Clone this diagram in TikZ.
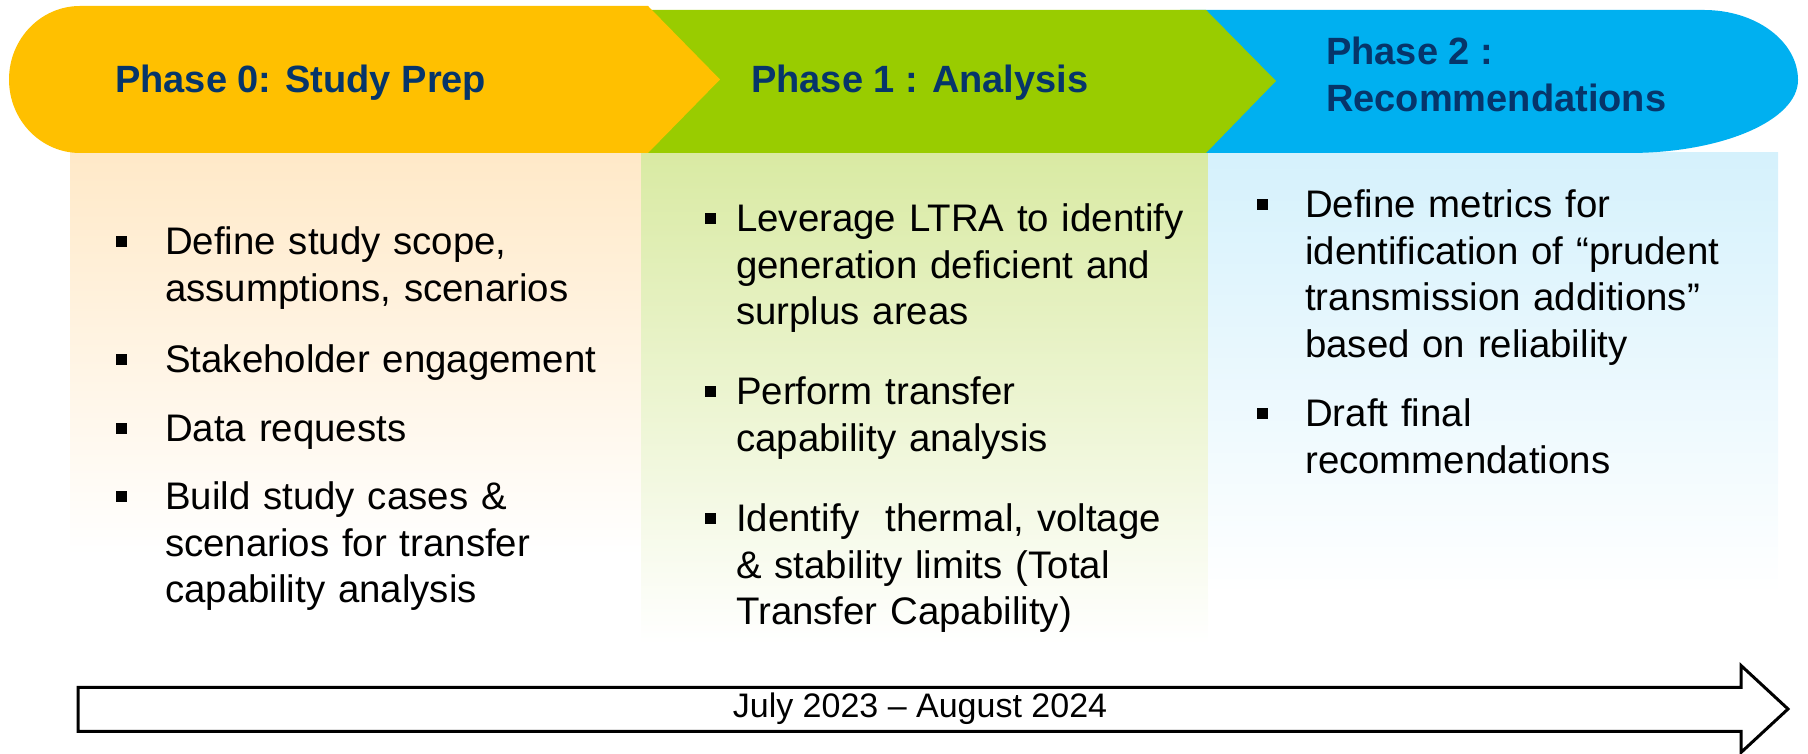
\documentclass[tikz,border=0pt]{standalone}
\usepackage{fontspec}
\setmainfont{Liberation Sans}
\definecolor{orangeB}{HTML}{FFC000}
\definecolor{greenB}{HTML}{99CC00}
\definecolor{blueB}{HTML}{00B0F0}
\definecolor{orangeL}{HTML}{FFE9C8}
\definecolor{greenL}{HTML}{D9EAA3}
\definecolor{blueL}{HTML}{D5F1FC}
\definecolor{navy}{HTML}{06356A}
\begin{document}
\begin{tikzpicture}[x=1pt,y=1pt,
  title/.style={anchor=base west, inner sep=0pt, text=navy, align=left,
    font=\fontsize{38}{47}\selectfont\bfseries},
  item/.style={anchor=base west, inner sep=0pt, text width=560pt, align=left,
    font=\fontsize{38.4}{46.5}\selectfont},
  bul/.style={rectangle, fill=black, minimum size=11pt, inner sep=0pt},
  datetext/.style={anchor=base, inner sep=0pt, font=\fontsize{34}{40}\selectfont}]
\useasboundingbox (0,0) rectangle (1808,754);
% panels
\shade[top color=orangeL, middle color=orangeL!65!white, bottom color=white] (70,601) rectangle (641,199);
\shade[top color=greenL, middle color=greenL!60!white, bottom color=white] (641,601) rectangle (1208,110);
\shade[top color=blueL, middle color=blueL!60!white, bottom color=white] (1208,601) rectangle (1778,160);
% banner
\fill[blueB] (1180,744) -- (1704,744) arc[start angle=90,end angle=0,x radius=94,y radius=70]
  arc[start angle=0,end angle=-90,x radius=169,y radius=73] -- (1180,601) -- cycle;
\fill[greenB] (620,744) -- (1206,744) -- (1276,673) -- (1206,601) -- (620,601) -- cycle;
\fill[orangeB] (648,748) -- (720,674.5) -- (648,601) -- (80,601)
  arc[start angle=270,end angle=90,x radius=71,y radius=73.5] -- cycle;
% titles
\node[title] (t0) at (115,661.3) {Phase 0: Study Prep};
\node[title] (t1) at (751,661) {Phase 1 : Analysis};
\node[title] (t2) at (1326,642) {Phase 2 :\\Recommendations};
% phase 0 items
\node[item] (o1) at (165,499) {Define study scope,\\assumptions, scenarios};
\node[item] (o2) at (165,381.3) {Stakeholder engagement};
\node[item] (o3) at (165,312) {Data requests};
\node[item] (o4) at (165,244) {Build study cases \&\\scenarios for transfer\\capability analysis};
\node[bul] (ob1) at (121.5,512.5) {};
\node[bul] (ob2) at (121.5,394.8) {};
\node[bul] (ob3) at (121.5,325.5) {};
\node[bul] (ob4) at (121.5,257.5) {};
% phase 1 items
\node[item] (g1) at (736,522) {Leverage LTRA to identify\\generation deficient and\\surplus areas};
\node[item] (g2) at (736,349) {Perform transfer\\capability analysis};
\node[item] (g3) at (736,222) {Identify\ \ thermal, voltage\\\& stability limits (Total\\Transfer Capability)};
\node[bul] (gb1) at (710,535.5) {};
\node[bul] (gb2) at (710,362.5) {};
\node[bul] (gb3) at (710,235.5) {};
% phase 2 items
\node[item] (b1) at (1305,536) {Define metrics for\\identification of “prudent\\transmission additions”\\based on reliability};
\node[item] (b2) at (1305,327) {Draft final\\recommendations};
\node[bul] (bb1) at (1262,549.5) {};
\node[bul] (bb2) at (1262,340.5) {};
% timeline arrow
\draw[line width=3pt, fill=white, line join=miter]
  (78,66.5) -- (1741,66.5) -- (1741,88.5) -- (1788,45) -- (1741,1.5) -- (1741,22.5) -- (78,22.5) -- cycle;
\node[datetext] (date) at (920,36) {July 2023 – August 2024};
\end{tikzpicture}
\end{document}
